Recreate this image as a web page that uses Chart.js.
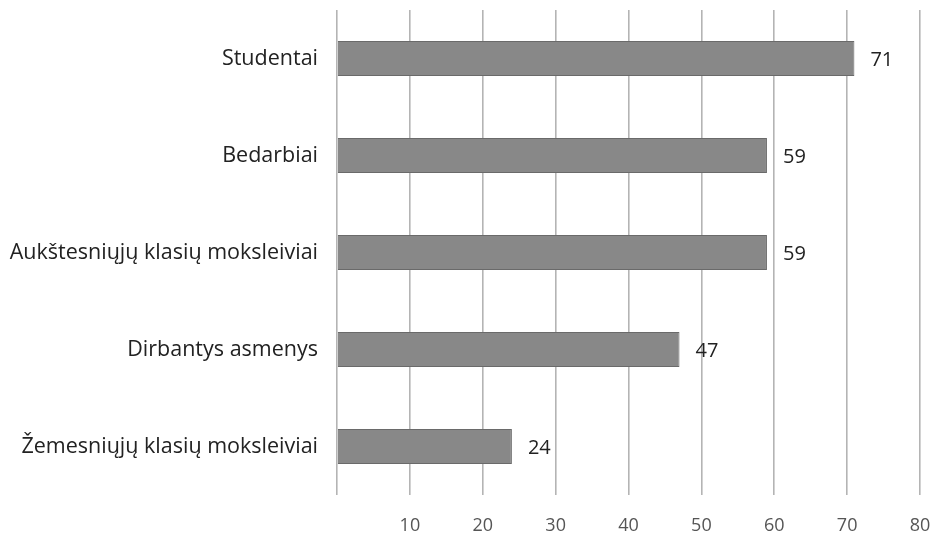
<!DOCTYPE html>
<html>
<head>
<meta charset="utf-8">
<script src="https://cdn.jsdelivr.net/npm/chart.js@4/dist/chart.umd.min.js"></script>
<style>
html,body{margin:0;padding:0;background:#fff;}
#wrap{width:939px;height:540px;position:relative;}
</style>
</head>
<body>
<div id="wrap"><canvas id="c" width="939" height="540"></canvas></div>
<script>
const categories = [
  "Studentai",
  "Bedarbiai",
  "Aukštesniųjų klasių moksleiviai",
  "Dirbantys asmenys",
  "Žemesniųjų klasių moksleiviai"
];
const values = [71, 59, 59, 47, 24];
const xTicks = [0, 10, 20, 30, 40, 50, 60, 70, 80];

const FONT = "'Open Sans', Lato, sans-serif";

const valueLabels = {
  id: 'valueLabels',
  afterDatasetsDraw(chart) {
    const ctx = chart.ctx;
    const meta = chart.getDatasetMeta(0);
    ctx.save();
    ctx.font = "20px " + FONT;
    ctx.fillStyle = "#222";
    ctx.textAlign = "left";
    ctx.textBaseline = "middle";
    meta.data.forEach((bar, i) => {
      ctx.fillText(String(values[i]), bar.x + 16, bar.y + 2);
    });
    ctx.restore();
  }
};

new Chart(document.getElementById('c'), {
  type: 'bar',
  data: {
    labels: categories,
    datasets: [{
      data: values,
      backgroundColor: '#888888',
      borderColor: '#6a6a6a',
      borderWidth: 1,
      barPercentage: 0.72,
      categoryPercentage: 0.5
    }]
  },
  options: {
    indexAxis: 'y',
    responsive: false,
    animation: false,
    layout: { padding: { top: 10, right: 19, left: 0, bottom: 0 } },
    plugins: { legend: { display: false }, tooltip: { enabled: false } },
    scales: {
      x: {
        min: 0, max: 80,
        afterBuildTicks(scale) { scale.ticks = xTicks.map(v => ({ value: v })); },
        afterFit(scale) { scale.height = 45; scale.paddingLeft = 0; scale.paddingRight = 0; },
        grid: { color: '#b4b4b4', lineWidth: 1.6, drawTicks: false },
        border: { display: false },
        ticks: {
          padding: 20,
          color: '#555',
          maxRotation: 0,
          font: { family: FONT, size: 18 },
          callback: (v) => v === 0 ? '' : String(v)
        }
      },
      y: {
        afterFit(scale) { scale.width = 337; scale.paddingTop = 0; scale.paddingBottom = 0; },
        grid: { display: false, drawTicks: false },
        border: { display: false },
        ticks: {
          padding: 19,
          color: '#222',
          font: { family: FONT, size: 21.5 }
        }
      }
    }
  },
  plugins: [valueLabels]
});
</script>
</body>
</html>
